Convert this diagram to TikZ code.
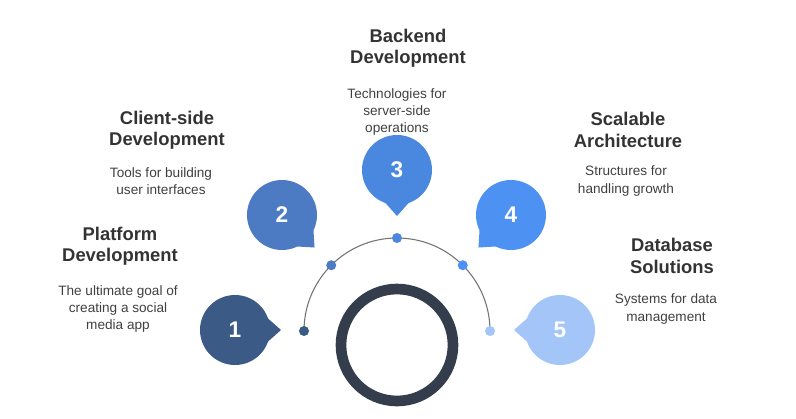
\documentclass[tikz,border=0pt]{standalone}
\usepackage{fontspec}
\setmainfont{Liberation Sans}
\usetikzlibrary{calc}
\definecolor{cA}{HTML}{3B5A86}
\definecolor{cB}{HTML}{4C7BC4}
\definecolor{cC}{HTML}{4A87DE}
\definecolor{cD}{HTML}{4D92F2}
\definecolor{cE}{HTML}{A3C5F7}
\definecolor{ring}{HTML}{333D4B}
\tikzset{titlenode/.style={font=\fontsize{13.8}{16}\selectfont\bfseries,text=black!80,align=center},
  descnode/.style={font=\fontsize{10.2}{12.8}\selectfont,text=black!75,align=center},
  dotnode/.style={circle,inner sep=0pt,minimum size=7.5pt}}
\newcommand{\bubble}[5]{%
  \fill[#4] ($(#1)+(#3+26:33)$) -- ($(#1)+(#3:46)$) -- ($(#1)+(#3-26:33)$) -- cycle;
  \node[circle,fill=#4,minimum size=52.5pt,inner sep=0pt,text=white,font=\fontsize{17}{20}\selectfont\bfseries] (#2) at (#1) {#5};}

\begin{document}
\begin{tikzpicture}[x=0.75pt,y=-0.75pt]
    \useasboundingbox (0,0) rectangle (796,418);
    \coordinate (c) at (397,345);
    \coordinate (a) at (397,331);
    \draw[ring,line width=8pt] (c) circle (56);
    \draw[black!55,line width=0.8pt] ($(a)+(180:93)$) arc (180:360:93);
    \node[dotnode,fill=cA] (d1) at ($(a)+(180:93)$) {};
    \node[dotnode,fill=cB] (d2) at ($(a)+(225:93)$) {};
    \node[dotnode,fill=cC] (d3) at ($(a)+(270:93)$) {};
    \node[dotnode,fill=cD] (d4) at ($(a)+(315:93)$) {};
    \node[dotnode,fill=cE] (d5) at ($(a)+(360:93)$) {};
    % bubbles
    \coordinate (p1) at (235,330);
    \coordinate (p2) at (282,215);
    \coordinate (p3) at (397,170);
    \coordinate (p4) at (511,215);
    \coordinate (p5) at (560,330);
    \bubble{p1}{b1}{0}{cA}{1}
    \bubble{p2}{b2}{45}{cB}{2}
    \bubble{p3}{b3}{90}{cC}{3}
    \bubble{p4}{b4}{135}{cD}{4}
    \bubble{p5}{b5}{180}{cE}{5}
    % labels
    \node[titlenode] (t1) at (120,246) {Platform\\Development};
    \node[descnode] (s1) at (118,309) {The ultimate goal of\\creating a social\\media app};
    \node[titlenode] (t2) at (167,130) {Client-side\\Development};
    \node[descnode] (s2) at (161,181) {Tools for building\\user interfaces};
    \node[titlenode] (t3) at (408,48) {Backend\\Development};
    \node[descnode] (s3) at (397,112) {Technologies for\\server-side\\operations};
    \node[titlenode] (t4) at (628,130) {Scalable\\Architecture};
    \node[descnode] (s4) at (626,181) {Structures for\\handling growth};
    \node[titlenode] (t5) at (672,256) {Database\\Solutions};
    \node[descnode] (s5) at (666,309) {Systems for data\\management};
\end{tikzpicture}
\end{document}
